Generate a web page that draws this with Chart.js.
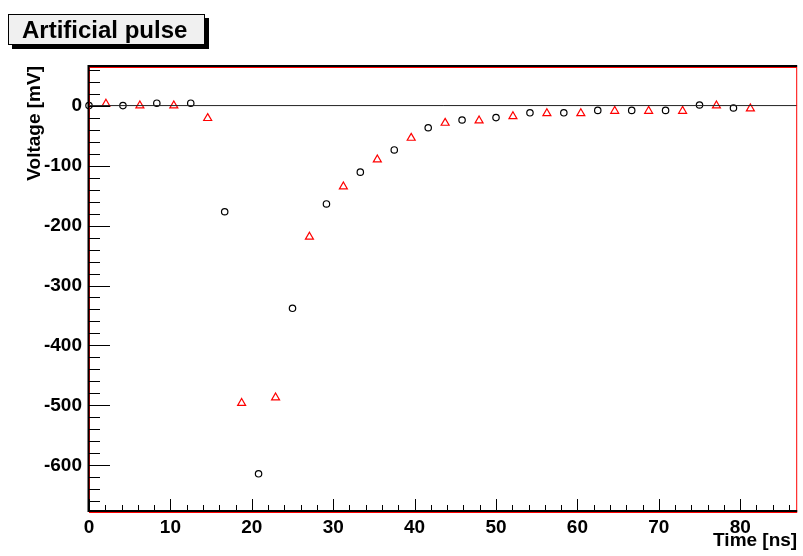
<!DOCTYPE html>
<html>
<head>
<meta charset="utf-8">
<script src="https://cdn.jsdelivr.net/npm/chart.js@4"></script>
<style>
  body { margin: 0; background: #fff; }
  #wrap { position: relative; width: 803px; height: 556px; }
  #pulseChart { position: absolute; left: 0; top: 0; }
  #titleBox {
    position: absolute; left: 8px; top: 14px; width: 195px; height: 29px;
    background: #f0f0f0; border: 1px solid #000;
    box-shadow: 4px 4px 0 #000;
    font: bold 24px "Liberation Sans", Arial, Helvetica, sans-serif;
    line-height: 29px; text-indent: 13px; color: #000;
  }
</style>
</head>
<body>
<div id="wrap">
  <canvas id="pulseChart" width="803" height="556"></canvas>
  <div id="titleBox">Artificial pulse</div>
</div>
<script>
// sample times [ns] and voltages [mV] for the two channels
const circleTimes = [0, 4.17, 8.33, 12.5, 16.67, 20.83, 25, 29.17, 33.33, 37.5,
  41.67, 45.83, 50, 54.17, 58.33, 62.5, 66.67, 70.83, 75, 79.17];
const circleVolts = [0, 0, 4, 4, -177, -614, -338, -164, -111, -74,
  -37, -24, -20, -12, -12, -8, -8, -8, 1, -4];

const triangleTimes = [2.08, 6.25, 10.42, 14.58, 18.75, 22.92, 27.08, 31.25, 35.42, 39.58,
  43.75, 47.92, 52.08, 56.25, 60.42, 64.58, 68.75, 72.92, 77.08, 81.25];
const triangleVolts = [3, 0, 0, -21, -496, -487, -219, -135, -90, -54,
  -29, -25, -18, -13, -13, -9, -9, -9, 0, -5];

// baseline drawn across the whole frame
const baseTimes = [0, 87];
const baseVolts = [0, 0];

const xRange = [0, 87];
const yRange = [-676, 66];

const FONT = '"Liberation Sans", Arial, Helvetica, sans-serif';

function toPoints(xs, ys) {
  return xs.map((x, i) => ({ x: x, y: ys[i] }));
}

// frame and inward ticks, ROOT style
const frameTicks = {
  id: 'frameTicks',
  afterDatasetsDraw(chart) {
    const { ctx, chartArea: a, scales } = chart;
    const xs = scales.x, ys = scales.y;
    ctx.save();

    ctx.strokeStyle = '#ff0000';
    ctx.lineWidth = 1;
    ctx.strokeRect(a.left + 0.5, a.top + 1.5, a.right - a.left - 1, a.bottom - a.top);

    ctx.strokeStyle = '#000';
    ctx.lineWidth = 1;
    ctx.beginPath();
    for (let v = Math.ceil(ys.min / 20) * 20; v <= ys.max; v += 20) {
      const py = Math.round(ys.getPixelForValue(v)) + 0.5;
      const len = v % 100 === 0 ? 21 : 11;
      ctx.moveTo(a.left, py);
      ctx.lineTo(a.left + len, py);
    }
    for (let v = Math.ceil(xs.min / 2) * 2; v <= xs.max; v += 2) {
      const px = Math.round(xs.getPixelForValue(v)) + 0.5;
      const len = v % 10 === 0 ? 12 : 6;
      ctx.moveTo(px, a.bottom);
      ctx.lineTo(px, a.bottom - len);
    }
    ctx.stroke();

    ctx.lineWidth = 2;
    ctx.beginPath();
    ctx.moveTo(a.left - 0.5, a.top);
    ctx.lineTo(a.left - 0.5, a.bottom + 1);
    ctx.moveTo(a.left - 1.5, a.bottom);
    ctx.lineTo(a.right, a.bottom);
    ctx.moveTo(a.left - 1.5, a.top);
    ctx.lineTo(a.right, a.top);
    ctx.stroke();
    ctx.restore();
  }
};

const ctx = document.getElementById('pulseChart').getContext('2d');

new Chart(ctx, {
  type: 'scatter',
  data: {
    datasets: [
      {
        data: toPoints(baseTimes, baseVolts),
        showLine: true,
        borderColor: '#222',
        borderWidth: 1,
        pointRadius: 0,
      },
      {
        data: toPoints(circleTimes, circleVolts),
        pointStyle: 'circle',
        pointRadius: 3.2,
        borderWidth: 1.2,
        borderColor: '#000',
        backgroundColor: 'rgba(0,0,0,0)',
        clip: false,
      },
      {
        data: toPoints(triangleTimes, triangleVolts),
        pointStyle: 'triangle',
        pointRadius: 4.6,
        borderWidth: 1.2,
        borderColor: '#ff0000',
        backgroundColor: 'rgba(0,0,0,0)',
        clip: false,
      },
    ]
  },
  options: {
    responsive: false,
    animation: false,
    devicePixelRatio: 1,
    layout: { padding: { top: 66, right: 3, left: 0, bottom: 0 } },
    plugins: {
      legend: { display: false },
      tooltip: { enabled: false },
    },
    scales: {
      x: {
        type: 'linear',
        position: 'bottom',
        min: xRange[0],
        max: xRange[1],
        grid: { display: false, drawTicks: false },
        border: { display: false },
        ticks: {
          stepSize: 10,
          includeBounds: false,
          maxRotation: 0,
          padding: 5,
          color: '#000',
          font: { family: FONT, size: 19, weight: 'bold' },
        },
        title: {
          display: true,
          text: 'Time [ns]',
          align: 'end',
          color: '#000',
          font: { family: FONT, size: 19, weight: 'bold' },
          padding: { top: 0, bottom: 4 },
        },
        afterFit(scale) { scale.height = 45; },
      },
      y: {
        type: 'linear',
        min: yRange[0],
        max: yRange[1],
        grid: { display: false, drawTicks: false },
        border: { display: false },
        ticks: {
          stepSize: 100,
          includeBounds: false,
          padding: 7,
          color: '#000',
          font: { family: FONT, size: 19, weight: 'bold' },
        },
        title: {
          display: true,
          text: 'Voltage [mV]',
          align: 'end',
          color: '#000',
          font: { family: FONT, size: 19, weight: 'bold' },
          padding: { top: 23, bottom: 0 },
        },
        afterFit(scale) { scale.width = 89; },
      },
    },
  },
  plugins: [frameTicks],
});
</script>
</body>
</html>
